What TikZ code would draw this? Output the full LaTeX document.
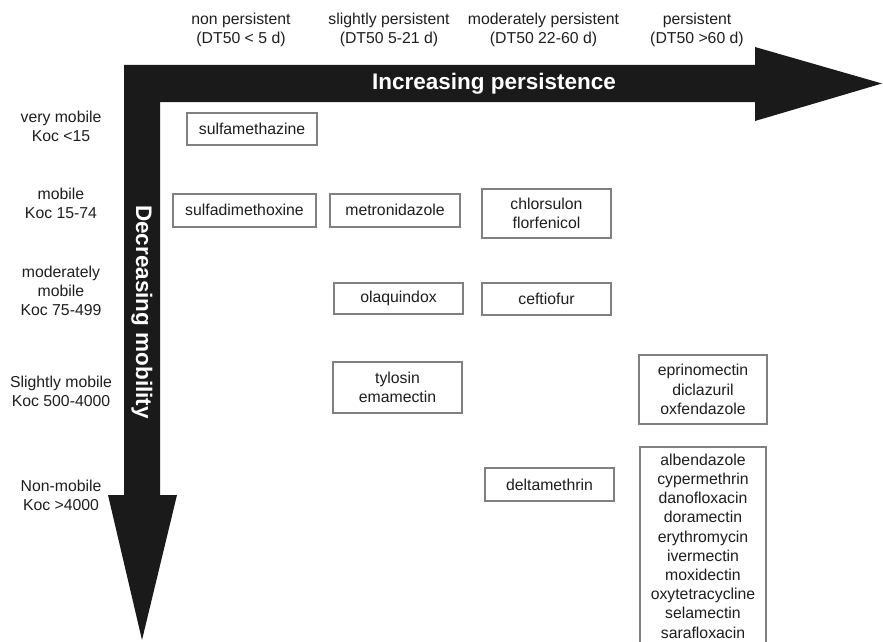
\documentclass[tikz,border=0pt]{standalone}
\usepackage{fontspec}
\setmainfont{Liberation Sans}

\definecolor{arrowblack}{HTML}{1A1A1A}
\definecolor{boxgray}{HTML}{808080}
\definecolor{textgray}{HTML}{1E1E1E}

\tikzset{
  drugbox/.style={draw=boxgray, line width=2pt, fill=white, align=center,
    inner sep=0pt, text=textgray, font=\fontsize{15.8}{19.2}\selectfont},
  classlabel/.style={align=center, text=textgray, font=\fontsize{15.8}{19}\selectfont},
  axisname/.style={text=white, font=\bfseries\fontsize{22.5}{26}\selectfont}
}

\begin{document}
\begin{tikzpicture}[x=1pt,y=-1pt]
    \useasboundingbox (0,0) rectangle (883,642);

    % Draw the two axis arrows as one black shape
    \fill[arrowblack] (124,65) -- (755,65) -- (755,47) -- (882,83.5) -- (755,121)
        -- (755,102) -- (160,102) -- (160,495) -- (177,495) -- (142,640)
        -- (108,495) -- (124,495) -- cycle;

    \node[axisname] (persist) at (494,83.5) {Increasing persistence};
    \node[axisname, rotate=-90] (mobil) at (142,312) {Decreasing mobility};

    % Persistence classes along the top
    \node[classlabel] (non) at (241,30) {non persistent\\(DT50 < 5 d)};
    \node[classlabel] (slight) at (389,30) {slightly persistent\\(DT50 5-21 d)};
    \node[classlabel] (moder) at (543.5,30) {moderately persistent\\(DT50 22-60 d)};
    \node[classlabel] (pers) at (697,30) {persistent\\(DT50 >60 d)};

    % Mobility classes down the left side
    \node[classlabel] (vmob) at (61,126) {very mobile\\Koc <15};
    \node[classlabel] (mob) at (61,203.5) {mobile\\Koc 15-74};
    \node[classlabel] (mmob) at (61,291) {moderately\\mobile\\Koc 75-499};
    \node[classlabel] (smob) at (61,391) {Slightly mobile\\Koc 500-4000};
    \node[classlabel] (nmob) at (61,495) {Non-mobile\\Koc >4000};

    % Drugs placed in the grid
    \node[drugbox, minimum width=130, minimum height=32] (sulfam) at (252,129) {sulfamethazine};
    \node[drugbox, minimum width=143, minimum height=33] (sulfad) at (244.5,210) {sulfadimethoxine};
    \node[drugbox, minimum width=130, minimum height=33] (metro) at (395,210) {metronidazole};
    \node[drugbox, minimum width=129, minimum height=49] (chlor) at (546.5,213.5) {chlorsulon\\florfenicol};
    \node[drugbox, minimum width=129, minimum height=31] (olaq) at (398.5,298.5) {olaquindox};
    \node[drugbox, minimum width=129, minimum height=32] (ceft) at (546.5,299) {ceftiofur};
    \node[drugbox, minimum width=129, minimum height=51] (tylo) at (397.5,387.5) {tylosin\\emamectin};
    \node[drugbox, minimum width=128, minimum height=69] (epri) at (703,389.5) {eprinomectin\\diclazuril\\oxfendazole};
    \node[drugbox, minimum width=129, minimum height=33] (delta) at (549.5,484.5) {deltamethrin};
    \node[drugbox, minimum width=126, minimum height=198] (albe) at (703,546) {albendazole\\cypermethrin\\danofloxacin\\doramectin\\erythromycin\\ivermectin\\moxidectin\\oxytetracycline\\selamectin\\sarafloxacin};

\end{tikzpicture}
\end{document}
